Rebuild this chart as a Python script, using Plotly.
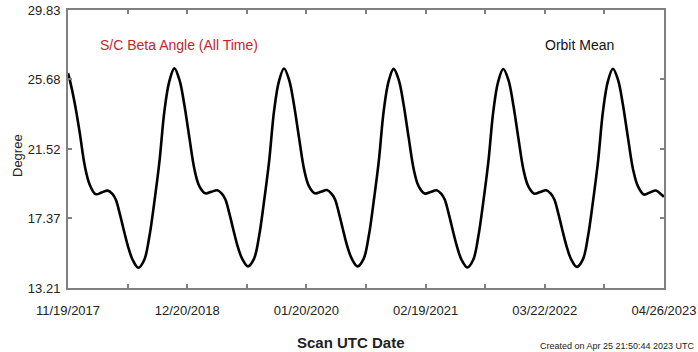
import pandas as pd
import plotly.graph_objects as go

# ---- data ----
start_date = "2017-11-19"
# days since start date
days = [
    0, 6, 22, 39, 56, 72, 92, 112, 132, 147, 159, 171, 184, 199, 215, 234, 254, 271, 287, 304, 321, 337, 354,
    371, 387, 404, 421, 437, 457, 477, 497, 512, 524, 536, 549, 564, 580, 599, 619, 636, 652, 669, 686, 702, 719,
    736, 752, 769, 786, 802, 822, 842, 862, 877, 889, 901, 914, 929, 945, 964, 984, 1001, 1017, 1034, 1051, 1067, 1084,
    1101, 1117, 1134, 1151, 1167, 1187, 1207, 1227, 1242, 1254, 1266, 1279, 1294, 1310, 1329, 1349, 1366, 1382, 1399, 1416, 1432, 1449,
    1466, 1482, 1499, 1516, 1532, 1552, 1572, 1592, 1607, 1619, 1631, 1644, 1659, 1675, 1694, 1714, 1731, 1747, 1764, 1781, 1797, 1814,
    1831, 1847, 1864, 1881, 1897, 1917, 1937, 1957, 1972, 1984,
]
beta_deg = [
    26.05, 25.65, 24.30, 22.50, 20.50, 19.40, 18.82, 18.92, 19.03, 18.85, 18.50, 17.75, 16.80, 15.75, 14.90, 14.42, 14.90, 16.30, 18.30, 20.70, 23.80, 25.55, 26.34,
    25.65, 24.20, 22.20, 20.30, 19.30, 18.87, 18.96, 19.05, 18.85, 18.50, 17.75, 16.80, 15.75, 14.95, 14.50, 14.95, 16.30, 18.30, 20.70, 23.80, 25.55, 26.33,
    25.65, 24.20, 22.20, 20.30, 19.30, 18.87, 18.96, 19.07, 18.85, 18.50, 17.75, 16.80, 15.75, 14.95, 14.50, 14.95, 16.30, 18.30, 20.70, 23.80, 25.55, 26.31,
    25.65, 24.20, 22.20, 20.30, 19.30, 18.86, 18.95, 19.05, 18.85, 18.50, 17.75, 16.80, 15.75, 14.90, 14.44, 14.90, 16.30, 18.30, 20.70, 23.80, 25.55, 26.30,
    25.65, 24.20, 22.20, 20.30, 19.30, 18.85, 18.95, 19.05, 18.85, 18.50, 17.75, 16.80, 15.75, 14.92, 14.47, 14.92, 16.30, 18.30, 20.70, 23.80, 25.55, 26.32,
    25.65, 24.20, 22.20, 20.30, 19.30, 18.80, 18.92, 19.04, 18.85, 18.66,
]

y_tick_vals = [13.21, 17.37, 21.52, 25.68, 29.83]
y_tick_text = ["13.21", "17.37", "21.52", "25.68", "29.83"]
x_tick_labels = ["11/19/2017", "12/20/2018", "01/20/2020", "02/19/2021", "03/22/2022", "04/26/2023"]
end_date = "2023-04-26"

# ---- build ----
t0 = pd.Timestamp(start_date)
t1 = pd.Timestamp(end_date)
dates = [t0 + pd.Timedelta(days=d) for d in days]

n_minor = 2 * (len(x_tick_labels) - 1)
step = (t1 - t0) / n_minor
x_tick_vals = [t0 + step * i for i in range(n_minor)] + [t1]
x_tick_text = [x_tick_labels[i // 2] if i % 2 == 0 else "" for i in range(n_minor + 1)]

FONT = "Liberation Sans, Arial, sans-serif"
FRAME = "#808080"
TXT = "#222222"

fig = go.Figure()
fig.add_trace(go.Scatter(
    x=dates, y=beta_deg, mode="lines",
    line=dict(color="black", width=2.6, shape="spline", smoothing=1.0),
    hoverinfo="x+y", showlegend=False,
))

fig.update_layout(
    width=698, height=352,
    margin=dict(l=68, r=34, t=10, b=64, autoexpand=False),
    paper_bgcolor="white", plot_bgcolor="white",
    font=dict(family=FONT, size=13, color=TXT),
    showlegend=False,
    xaxis=dict(
        type="date", range=[t0, t1], automargin=False,
        tickmode="array", tickvals=x_tick_vals, ticktext=x_tick_text,
        ticks="inside", ticklen=4, tickwidth=1.5, tickcolor=FRAME,
        showline=True, linecolor=FRAME, linewidth=2, mirror="ticks",
        showgrid=False, zeroline=False,
        tickfont=dict(family=FONT, size=13, color=TXT),
        ticklabelstandoff=9, ticklabeloverflow="allow",
    ),
    yaxis=dict(
        range=[13.21, 29.83], automargin=False,
        tickmode="array", tickvals=y_tick_vals, ticktext=y_tick_text,
        ticks="inside", ticklen=4, tickwidth=1.5, tickcolor=FRAME,
        showline=True, linecolor=FRAME, linewidth=2, mirror="ticks",
        showgrid=False, zeroline=False,
        tickfont=dict(family=FONT, size=13, color=TXT),
        ticklabelstandoff=3, ticklabeloverflow="allow",
    ),
    annotations=[
        dict(text="<b>Scan UTC Date</b>", xref="paper", yref="paper",
             x=(351 - 68) / 596, y=(288 - 342) / 278, xanchor="center", yanchor="middle",
             showarrow=False, font=dict(family=FONT, size=15, color=TXT)),
        dict(text="Degree", xref="paper", yref="paper", textangle=-90,
             x=(17 - 68) / 596, y=(288 - 156) / 278, xanchor="center", yanchor="middle",
             showarrow=False, font=dict(family=FONT, size=13, color=TXT)),
        dict(text="S/C Beta Angle (All Time)", xref="paper", yref="paper",
             x=(98 - 68) / 596, y=(288 - 45) / 278, xanchor="left", yanchor="middle",
             showarrow=False, font=dict(family=FONT, size=14, color="#c0282d")),
        dict(text="Orbit Mean", xref="paper", yref="paper",
             x=(579 - 68) / 596, y=(288 - 45) / 278, xanchor="center", yanchor="middle",
             showarrow=False, font=dict(family=FONT, size=14, color="#111111")),
        dict(text="Created on Apr 25 21:50:44 2023 UTC", xref="paper", yref="paper",
             x=(697 - 68) / 596, y=(288 - 346) / 278, xanchor="right", yanchor="middle",
             showarrow=False, font=dict(family=FONT, size=9, color=TXT)),
    ],
)

fig.write_html("out.html")
